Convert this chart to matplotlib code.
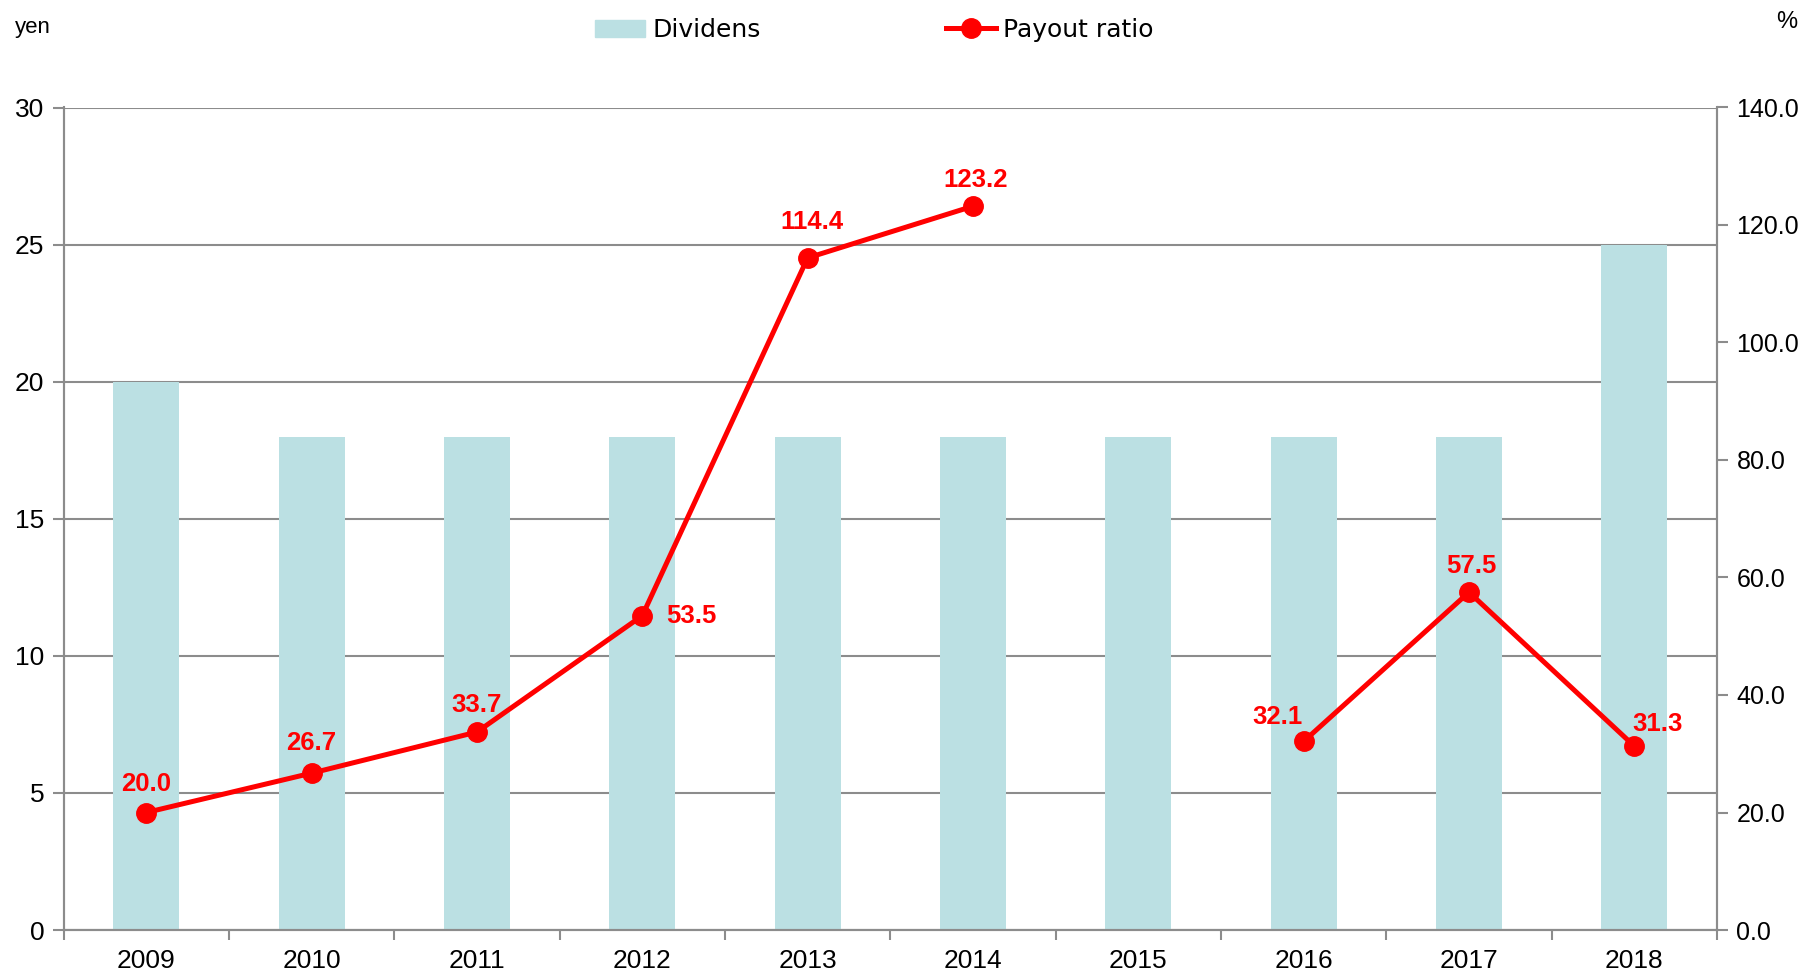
import matplotlib
matplotlib.use("Agg")
import matplotlib.pyplot as plt
import numpy as np

years = ["2009", "2010", "2011", "2012", "2013", "2014", "2015", "2016", "2017", "2018"]
dividends = [20, 18, 18, 18, 18, 18, 18, 18, 18, 25]
payout = [20.0, 26.7, 33.7, 53.5, 114.4, 123.2, np.nan, 32.1, 57.5, 31.3]
label_offsets = [(0, 12), (0, 13), (0, 11), (35, 0), (3, 17), (2, 10), None, (-19, 9), (2, 10), (17, 7)]

plt.rcParams['font.family'] = ['Liberation Sans', 'DejaVu Sans']

fig = plt.figure(figsize=(18.12, 9.74), dpi=100)
ax = fig.add_axes([63.6/1812, 1-930/974, (1717-63.6)/1812, (930-107.5)/974])
ax2 = ax.twinx()

x = np.arange(len(years))
bar_color = '#BBE0E3'
grey = '#8C8C8C'
ax.bar(x, dividends, width=0.4, color=bar_color, zorder=2, label='Dividens')
ax.set_ylim(0, 30)
ax.set_xlim(-0.5, len(years) - 0.5)
ax.set_yticks(np.arange(0, 31, 5))
ax.yaxis.grid(True, color=grey, linewidth=1.5, zorder=0)
ax.set_axisbelow(True)
ax.set_xticks(x)
ax.set_xticklabels(years, fontsize=19)
ax.set_xticks(np.arange(-0.5, len(years), 1), minor=True)
ax.tick_params(axis='x', which='major', length=0, pad=14)
ax.tick_params(axis='x', which='minor', length=7, width=1.5, color=grey, direction='out')
ax.tick_params(axis='y', labelsize=19, length=8, width=1.5, color=grey, direction='out', pad=6)

for a in (ax, ax2):
    a.spines['top'].set_visible(False)
    for s in ['left', 'right', 'bottom']:
        a.spines[s].set_color(grey)
        a.spines[s].set_linewidth(1.5)

ax2.set_ylim(0, 140)
ax2.set_yticks(np.arange(0, 141, 20))
ax2.set_yticklabels([f"{v:.1f}" for v in np.arange(0, 141, 20)])
ax2.tick_params(axis='y', labelsize=18, length=8, width=1.5, color=grey, direction='out', pad=6)
line, = ax2.plot(x, payout, color='#FF0000', linewidth=3.6, marker='o', markersize=14,
                 zorder=5, label='Payout ratio')

for xi, v, off in zip(x, payout, label_offsets):
    if np.isnan(v):
        continue
    ax2.annotate(f"{v:.1f}", (xi, v), xytext=off, textcoords='offset points',
                 ha='center', va='bottom' if off[1] > 0 else 'center',
                 fontsize=18.5, fontweight='bold', color='#FF0000', zorder=6)

fig.text(15/1812, 1-27/974, 'yen', fontsize=16, va='center', ha='left')
fig.text(1797/1812, 1-22/974, '%', fontsize=17, va='center', ha='right')

handles = [plt.Rectangle((0, 0), 1, 1, color=bar_color), line]
fig.legend(handles, ['Dividens', 'Payout ratio'], loc='center left', bbox_to_anchor=(595/1812, 1-30/974),
           ncol=2, frameon=False, borderpad=0, borderaxespad=0,
           prop={'family': 'DejaVu Sans', 'size': 18},
           columnspacing=7.4, handlelength=2.0, handletextpad=0.3)

fig.savefig('out.png', dpi=100)
